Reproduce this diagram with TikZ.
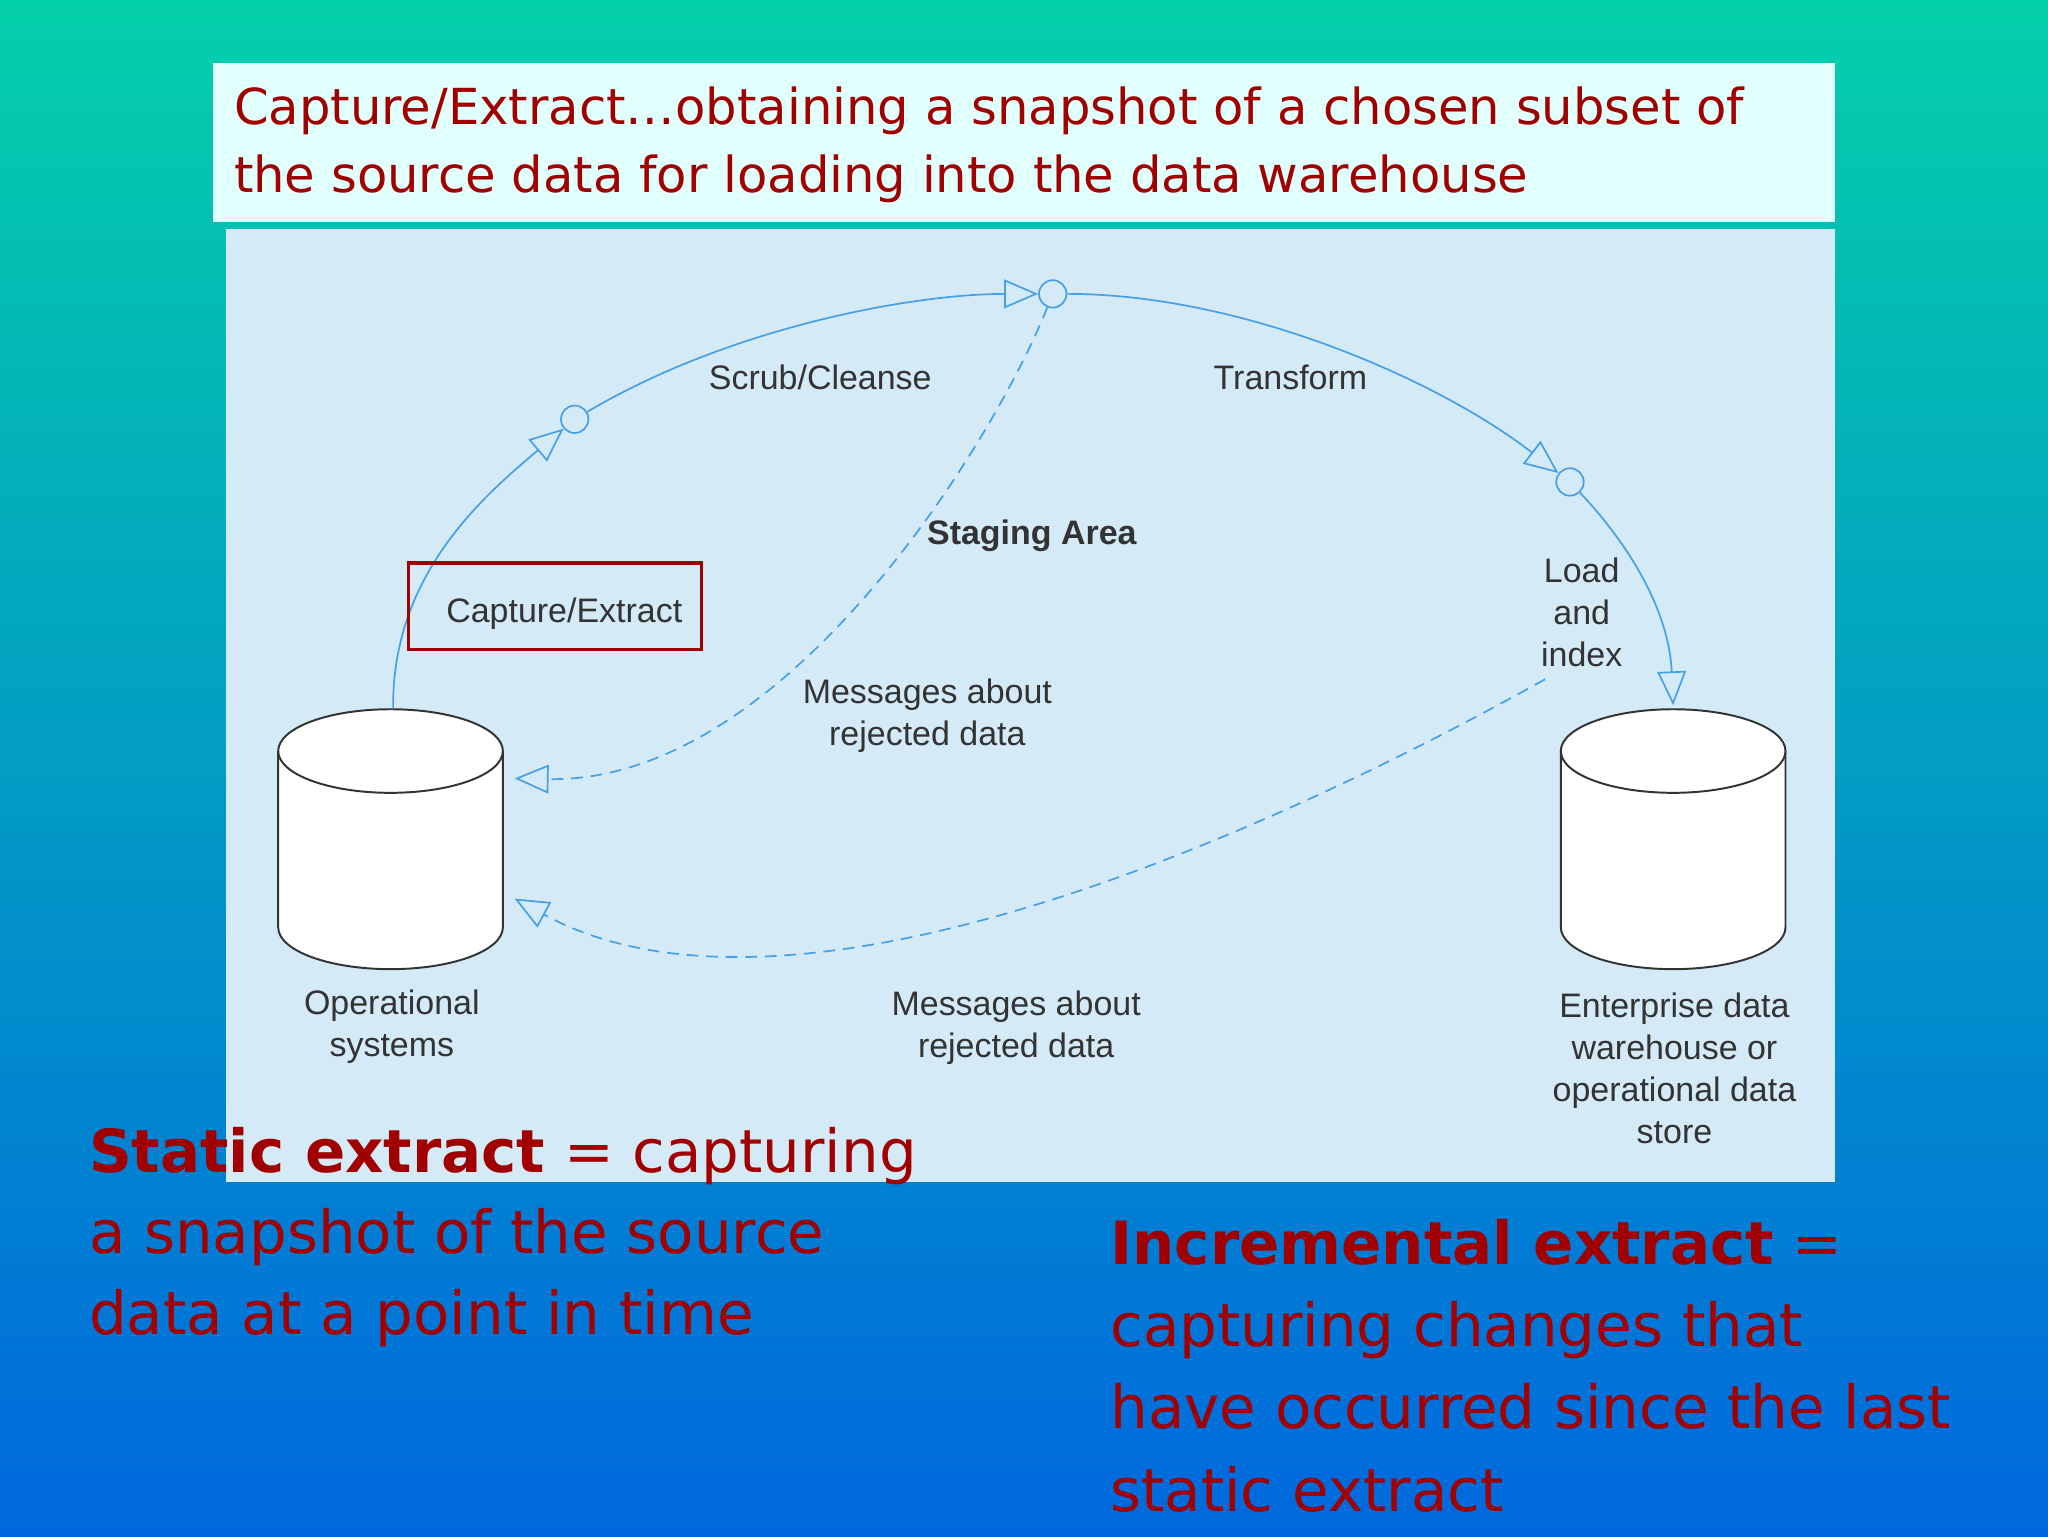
\documentclass[tikz,border=0pt]{standalone}
\usepackage{fontspec}
\setmainfont{DejaVu Sans}
\newfontfamily\diag{Liberation Sans}
\usetikzlibrary{arrows.meta}
\definecolor{dred}{RGB}{160,0,0}
\definecolor{lblue}{RGB}{70,160,230}
\definecolor{panel}{RGB}{212,234,247}
\definecolor{titlebg}{RGB}{225,255,252}
\definecolor{bgtop}{RGB}{4,208,170}
\definecolor{bgmid}{RGB}{30,205,225}
\definecolor{bgbot}{RGB}{0,104,222}
\tikzset{
 flow/.style={lblue,line width=1.3pt,-{Triangle[open,length=26pt,width=22pt]}},
 rej/.style={flow,dash pattern=on 9pt off 6pt},
 ring/.style={circle,draw=lblue,line width=1.3pt,minimum size=21pt,inner sep=0pt},
 dl/.style={font=\diag\fontsize{26}{32}\selectfont,align=center,text=black!80},
 big/.style={font=\fontsize{45.5}{62}\selectfont,text=dred,anchor=base west,inner sep=0pt},
 cyl/.style={draw=black!80,line width=1.5pt,fill=white}
}
\begin{document}
\begin{tikzpicture}[x=1pt,y=-1pt]
\useasboundingbox (0,0) rectangle (1568,1176);
\shade[top color=bgtop,middle color=bgmid,bottom color=bgbot] (0,0) rectangle (1568,1176);
\fill[panel] (173,175) rectangle (1405,905);
\fill[titlebg] (163,48) rectangle (1405,170);
\node[font=\fontsize{38}{52}\selectfont,text=dred,anchor=north west,align=left,inner sep=0pt] (title) at (179,66) {Capture/Extract…obtaining a snapshot of a chosen subset of\\the source data for loading into the data warehouse};
\draw[cyl] (213,575) -- (213,710) arc[start angle=180,end angle=0,x radius=86,y radius=32] -- (385,575);
\draw[cyl] (299,575) ellipse[x radius=86,y radius=32];
\draw[cyl] (1195,575) -- (1195,710) arc[start angle=180,end angle=0,x radius=86,y radius=32] -- (1367,575);
\draw[cyl] (1281,575) ellipse[x radius=86,y radius=32];
\coordinate (opTop) at (301,542);
\coordinate (ewTop) at (1281,540);
\coordinate (opA) at (394,596);
\coordinate (opB) at (394,688);
\coordinate (ldEnd) at (1183,520);
\node[ring] (c1) at (440,321) {};
\node[ring] (c2) at (806,225) {};
\node[ring] (c3) at (1202,369) {};
\draw[flow] (opTop) .. controls (300,440) and (370,380) .. (c1);
\draw[flow] (c1) .. controls (560,250) and (700,225) .. (c2);
\draw[flow] (c2) .. controls (950,225) and (1100,290) .. (c3);
\draw[flow] (c3) .. controls (1250,420) and (1278,470) .. (ewTop);
\draw[rej] (c2) .. controls (760,340) and (600,600) .. (opA);
\draw[rej] (ldEnd) .. controls (950,650) and (600,800) .. (opB);
\node[dl] (scrub) at (628,289) {Scrub/Cleanse};
\node[dl] (trans) at (988,289) {Transform};
\node[dl,font=\diag\bfseries\fontsize{26}{32}\selectfont] (stage) at (790,410) {Staging Area};
\node[dl] (load) at (1211,469) {Load\\and\\index};
\node[draw=dred,line width=2.5pt,minimum width=224pt,minimum height=66pt] (ce) at (425,464) {};
\node[dl] (cet) at (432,470) {Capture/Extract};
\node[dl] (m1) at (710,548) {Messages about\\rejected data};
\node[dl] (m2) at (778,787) {Messages about\\rejected data};
\node[dl] (ops) at (300,786) {Operational\\systems};
\node[dl] (ew) at (1282,818) {Enterprise data\\warehouse or\\operational data\\store};
\node[big] (s1) at (68,898) {\textbf{Static extract} = capturing};
\node[big] (s2) at (68,960) {a snapshot of the source};
\node[big] (s3) at (68,1022) {data at a point in time};
\node[big] (i1) at (850,968) {\textbf{Incremental extract} =};
\node[big] (i2) at (850,1031) {capturing changes that};
\node[big] (i3) at (850,1094) {have occurred since the last};
\node[big] (i4) at (850,1157) {static extract};
\end{tikzpicture}
\end{document}
